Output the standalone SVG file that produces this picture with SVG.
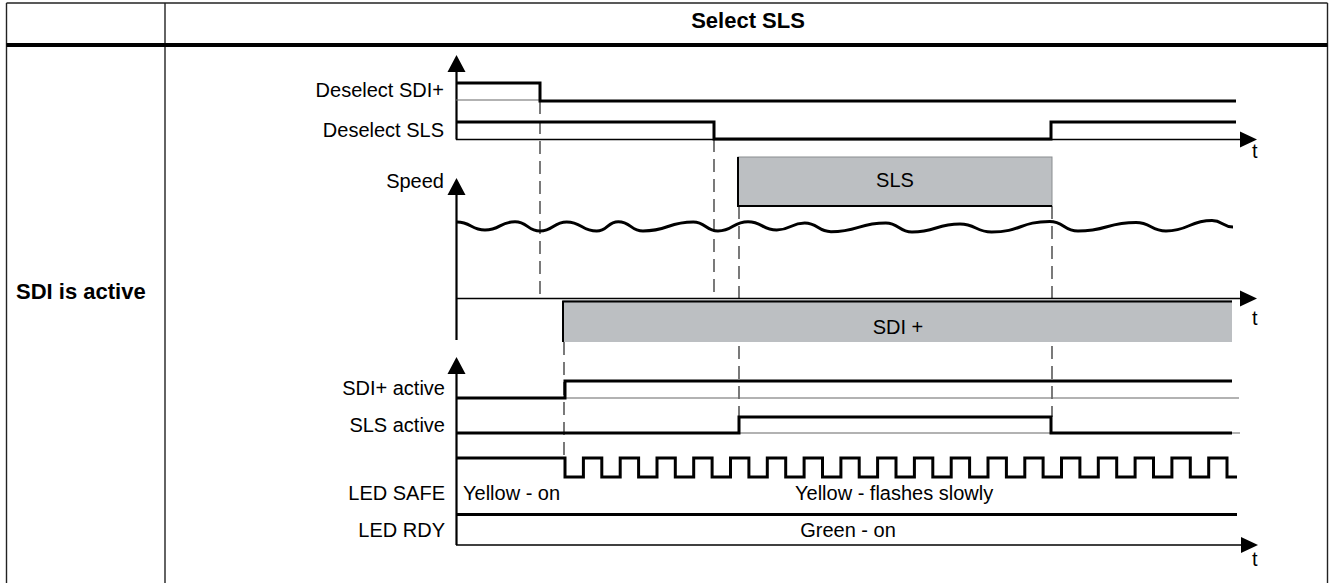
<svg xmlns="http://www.w3.org/2000/svg" width="1332" height="583" viewBox="0 0 1332 583">
<style>
text{font-family:"Liberation Sans",Arial,sans-serif;fill:#000}
.lbl{font-size:20px;text-anchor:end}
.txt{font-size:20px}
.bold{font-size:22px;font-weight:bold}
.grid{stroke:#222;stroke-width:1.4;fill:none}
.sig{stroke:#000;stroke-width:3;fill:none;stroke-linejoin:miter;stroke-linecap:butt}
.thin{stroke:#666;stroke-width:1.2;fill:none}
.axis{stroke:#000;stroke-width:2.2;fill:none}
.taxis{stroke:#000;stroke-width:1.6;fill:none}
.dash{stroke:#333;stroke-width:1.3;stroke-dasharray:13 7;fill:none}
.arrow{fill:#000}
.box{fill:#bcbfc2;stroke:#8a8d90;stroke-width:1}
.edge{stroke:#000;stroke-width:2;fill:none}
</style>
<g id="table">
<line class="grid" x1="6.5" y1="3" x2="1327.5" y2="3"/>
<line class="grid" x1="6.5" y1="3" x2="6.5" y2="583"/>
<line class="grid" x1="1327.5" y1="3" x2="1327.5" y2="583"/>
<line class="grid" x1="165" y1="3" x2="165" y2="583"/>
<line stroke="#000" stroke-width="4" x1="6.5" y1="45" x2="1327.5" y2="45"/>
<text class="bold" x="748" y="28" text-anchor="middle">Select SLS</text>
<text class="bold" x="16" y="299">SDI is active</text>
</g>
<g id="connectors">
<line class="dash" x1="540" y1="101" x2="540" y2="298"/>
<line class="dash" x1="714" y1="139" x2="714" y2="298"/>
<line class="dash" x1="739" y1="206" x2="739" y2="417"/>
<line class="dash" x1="1052" y1="206" x2="1052" y2="417"/>
<line class="dash" x1="564" y1="342" x2="564" y2="458"/>
</g>
<g id="sls-box">
<rect class="box" x="738" y="157" width="314" height="49"/>
<path class="edge" d="M738,157 V206 H1052"/>
<text class="txt" x="895" y="187" text-anchor="middle">SLS</text>
</g>
<g id="sdi-box">
<rect x="563" y="300" width="669" height="42" fill="#bcbfc2"/>
<path class="edge" d="M563,342 V301.5 H1232"/>
<text class="txt" x="898" y="334" text-anchor="middle">SDI +</text>
</g>
<g id="upper-axes">
<line class="axis" x1="456.5" y1="70" x2="456.5" y2="139.5"/>
<polygon class="arrow" points="456.5,55 447.5,72 465.5,72"/>
<line class="thin" x1="456" y1="100" x2="540" y2="100"/>
<line class="taxis" x1="456" y1="139.5" x2="1243" y2="139.5"/>
<polygon class="arrow" points="1257,139.5 1240,131.5 1240,147.5"/>
<text class="txt" x="1252" y="158">t</text>
</g>
<g id="deselect-sdi">
<text class="lbl" x="444" y="97">Deselect SDI+</text>
<path class="sig" d="M456,83 H540 V101 H1236"/>
</g>
<g id="deselect-sls">
<text class="lbl" x="444" y="137">Deselect SLS</text>
<path class="sig" d="M456,122 H714 V139 H1051 V122 H1236"/>
</g>
<g id="speed">
<text class="lbl" x="444" y="188">Speed</text>
<line class="axis" x1="456.5" y1="192" x2="456.5" y2="340"/>
<polygon class="arrow" points="456.5,178 447.5,195 465.5,195"/>
<line class="taxis" x1="456" y1="298.5" x2="1243" y2="298.5"/>
<polygon class="arrow" points="1257,298.5 1240,290.5 1240,306.5"/>
<text class="txt" x="1252" y="325">t</text>
<path class="sig" d="M457,222 C471,222 471,230 485,230 C500,230 500,221.7 515,221.7 C527.5,221.7 527.5,231 540,231 C553.3,231 553.3,222 566.7,222 C581.7,222 581.7,231 596.7,231 C607.5,231 607.5,221.7 618.3,221.7 C630.7,221.7 630.7,231 643,231 C668,231 668,222 693.3,222 C705.7,222 705.7,231 718,231 C733,231 733,221.7 748,221.7 C762.3,221.7 762.3,230 776.7,230 C790.7,230 790.7,223 804.7,223 C817.8,223 817.8,231.7 831,231.7 C858.4,231.7 858.4,223 885.8,223 C898.9,223 898.9,232 912,232 C936,232 936,224 960,224 C975.8,224 975.8,232 991.6,232 C1020.6,232 1020.6,221.5 1049.7,221.5 C1063.8,221.5 1063.8,231 1078,231 C1107,231 1107,222.5 1136,222.5 C1151,222.5 1151,231 1166,231 C1189,231 1189,220.5 1212,220.5 C1222.5,220.5 1222.5,227 1233,227"/>
</g>
<g id="lower-axes">
<line class="axis" x1="456.5" y1="371" x2="456.5" y2="545"/>
<polygon class="arrow" points="456.5,357 447.5,374 465.5,374"/>
<line class="taxis" x1="456" y1="545" x2="1244" y2="545"/>
<polygon class="arrow" points="1258,545 1241,537 1241,553"/>
<text class="txt" x="1252" y="566">t</text>
</g>
<g id="sdi-active">
<text class="lbl" x="445" y="395">SDI+ active</text>
<line class="thin" x1="565" y1="398" x2="1239" y2="398"/>
<path class="sig" d="M456,398 H565 V381 H1232"/>
</g>
<g id="sls-active">
<text class="lbl" x="445" y="432">SLS active</text>
<line class="thin" x1="739" y1="433" x2="1240" y2="433"/>
<path class="sig" d="M456,433 H739 V417 H1051 V433 H1232"/>
</g>
<g id="led-safe">
<text class="lbl" x="445" y="500">LED SAFE</text>
<path class="sig" d="M456,458 H565 V477 H583.4 V458 H601.8 V477 H620.2 V458 H638.6 V477 H657 V458 H675.3 V477 H693.7 V458 H712.1 V477 H730.5 V458 H748.9 V477 H767.3 V458 H785.7 V477 H804.1 V458 H822.5 V477 H840.9 V458 H859.2 V477 H877.6 V458 H896 V477 H914.4 V458 H932.8 V477 H951.2 V458 H969.6 V477 H988 V458 H1006.4 V477 H1024.8 V458 H1043.1 V477 H1061.5 V458 H1079.9 V477 H1098.3 V458 H1116.7 V477 H1135.1 V458 H1153.5 V477 H1171.9 V458 H1190.3 V477 H1208.7 V458 H1227 V477 H1237"/>
<text class="txt" x="463" y="500">Yellow - on</text>
<text class="txt" x="795" y="500">Yellow - flashes slowly</text>
</g>
<g id="led-rdy">
<text class="lbl" x="445" y="537">LED RDY</text>
<path class="sig" d="M456,514.5 H1237"/>
<text class="txt" x="848" y="537" text-anchor="middle">Green - on</text>
</g>
</svg>
